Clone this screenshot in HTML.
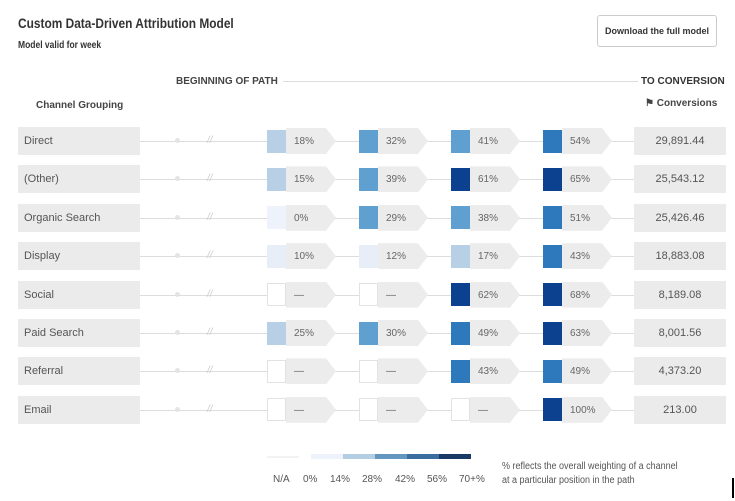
<!DOCTYPE html>
<html><head><meta charset="utf-8"><style>
body{margin:0;width:735px;height:501px;background:#fff;font-family:"Liberation Sans",sans-serif;color:#444;position:relative;overflow:hidden}
.a{position:absolute}
.lbl{position:absolute;left:18px;width:122px;height:28px;background:#ebebeb;font-size:11px;line-height:28px;text-indent:6px;color:#555}
.ln{position:absolute;height:1px;background:#ddd}
.sq{position:absolute;width:19px;height:23px;box-sizing:border-box}
.pill{position:absolute;height:26px;width:50px;background:#ececec;clip-path:polygon(0 0,80% 0,100% 50%,80% 100%,0 100%);font-size:10px;line-height:27px;text-indent:8px;color:#666}
.cv{position:absolute;left:634px;width:92px;height:28px;background:#ebebeb;font-size:11px;line-height:28px;text-align:center;color:#555}
.lg{position:absolute;top:474px;font-size:10px;color:#555}
</style></head><body>
<div class="a" style="left:18px;top:15px;font-size:14px;font-weight:bold;color:#333;transform:scaleX(0.85);transform-origin:0 0">Custom Data-Driven Attribution Model</div>
<div class="a" style="left:18px;top:40px;font-size:10px;font-weight:bold;color:#333;transform:scaleX(0.85);transform-origin:0 0">Model valid for week</div>
<div class="a" style="left:597px;top:15px;width:118px;height:30px;border:1px solid #ccc;border-radius:3px;font-size:9px;font-weight:bold;line-height:30px;text-align:center;color:#333">Download the full model</div>
<div class="a" style="left:176px;top:76px;font-size:10px;font-weight:bold;color:#444">BEGINNING OF PATH</div>
<div class="ln" style="left:283px;top:81px;width:355px"></div>
<div class="a" style="left:641px;top:76px;font-size:10px;font-weight:bold;color:#333">TO CONVERSION</div>
<div class="a" style="left:36px;top:100px;font-size:10px;font-weight:bold;color:#444">Channel Grouping</div>
<div class="a" style="left:645px;top:98px;font-size:10px;font-weight:bold;color:#444">&#9873; Conversions</div>
<div id="rows"></div>
<div class="a" style="left:267px;top:456px;width:32px;height:2px;background:#f2f2f2"></div>
<div class="a" style="left:311px;top:454px;width:32px;height:5px;background:#eef2fa"></div>
<div class="a" style="left:343px;top:454px;width:32px;height:5px;background:#b3cde3"></div>
<div class="a" style="left:375px;top:454px;width:32px;height:5px;background:#6497c0"></div>
<div class="a" style="left:407px;top:454px;width:32px;height:5px;background:#3a6e9e"></div>
<div class="a" style="left:439px;top:454px;width:32px;height:5px;background:#1a3a66"></div>
<div class="lg" style="left:273px">N/A</div>
<div class="lg" style="left:303px">0%</div>
<div class="lg" style="left:330px">14%</div>
<div class="lg" style="left:362px">28%</div>
<div class="lg" style="left:395px">42%</div>
<div class="lg" style="left:427px">56%</div>
<div class="lg" style="left:459px">70+%</div>
<div class="a" style="left:502px;top:460px;font-size:10px;color:#555;line-height:14px;transform:scaleX(0.9);transform-origin:0 0">% reflects the overall weighting of a channel<br>at a particular position in the path</div>
<div class="a" style="left:732px;top:478px;width:2px;height:20px;background:#000"></div>
<script>
var d=[["Direct",[18,32,41,54],"29,891.44"],["(Other)",[15,39,61,65],"25,543.12"],["Organic Search",[0,29,38,51],"25,426.46"],["Display",[10,12,17,43],"18,883.08"],["Social",[null,null,62,68],"8,189.08"],["Paid Search",[25,30,49,63],"8,001.56"],["Referral",[null,null,43,49],"4,373.20"],["Email",[null,null,null,100],"213.00"]];
function col(v){if(v===0)return"#eef2fa";if(v<14)return"#e8eef8";if(v<28)return"#b7d0e6";if(v<42)return"#5fa0d0";if(v<56)return"#2e78bc";return"#0b418e";}
var h="";d.forEach(function(r,i){var c=141+i*38.4,t=c-14;
h+='<div class="lbl" style="top:'+t+'px">'+r[0]+'</div>';
h+='<div class="ln" style="left:140px;top:'+c+'px;width:494px"></div>';
h+='<div class="a" style="left:175px;top:'+(c-3)+'px;width:5px;height:5px;border-radius:50%;background:#e4e4e4"></div>';
h+='<div class="a" style="left:207px;top:'+(c-6)+'px;font-size:10px;color:#ccc;font-style:italic">//</div>';
[267,359,451,543].forEach(function(x,j){var v=r[1][j];
h+='<div class="pill" style="left:'+(x+19)+'px;top:'+(c-13)+'px">'+(v===null?'—':v+'%')+'</div>';
h+='<div class="sq" style="left:'+x+'px;top:'+(c-11.5)+'px;'+(v===null?'background:#fff;border:1px solid #e2e2e2':'background:'+col(v))+'"></div>';});
h+='<div class="cv" style="top:'+t+'px">'+r[2]+'</div>';});
document.getElementById("rows").innerHTML=h;
</script>
</body></html>
